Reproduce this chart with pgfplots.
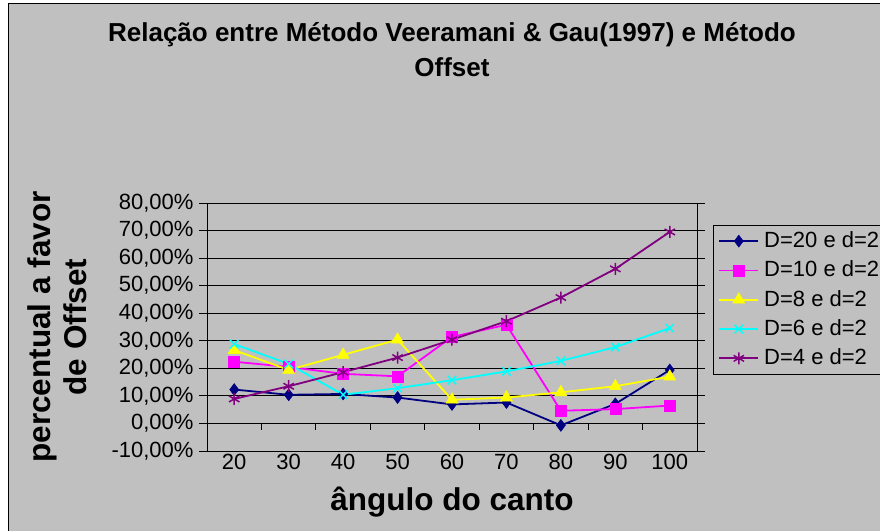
\documentclass[border=0pt]{standalone}
\usepackage{fontspec}
\setmainfont{Liberation Sans}
\usepackage{pgfplots}
\pgfplotsset{compat=1.18}
\definecolor{bg}{HTML}{C0C0C0}
\definecolor{cnavy}{HTML}{000080}
\definecolor{cmag}{HTML}{FF00FF}
\definecolor{cyel}{HTML}{FFFF00}
\definecolor{ccyan}{HTML}{00FFFF}
\definecolor{cpurp}{HTML}{800080}
\begin{document}
\begin{tikzpicture}[x=1pt,y=1pt]
\useasboundingbox (0,0) rectangle (880,530);
\clip (0,0) rectangle (880,530);
\fill[white] (0,0) rectangle (880,530);
\fill[bg, draw=black, line width=1pt] (8.5,-10) rectangle (895,526.5);
\begin{axis}[
  at={(207pt,79pt)}, anchor=south west,
  width=490pt, height=248pt, scale only axis,
  xmin=-0.5, xmax=8.5, ymin=-10, ymax=80,
  axis background/.style={fill=bg},
  axis line style={black, line width=0.8pt},
  xtick={0,...,8},
  xticklabels={20,30,40,50,60,70,80,90,100},
  xtick style={draw=none},
  ytick={-10,0,...,80},
  yticklabels={{-10,00\%},{0,00\%},{10,00\%},{20,00\%},{30,00\%},{40,00\%},{50,00\%},{60,00\%},{70,00\%},{80,00\%}},
  ytick style={black, line width=0.8pt},
  tick align=outside, major tick length=8pt,
  ymajorgrids, major grid style={black, line width=0.8pt},
  tick label style={font=\fontsize{22}{24}\selectfont},
  yticklabel style={xshift=-2pt},
  xticklabel style={yshift=8pt},
  xlabel={ângulo do canto},
  xlabel style={font=\fontsize{31.5}{36}\bfseries, at={(axis description cs:0.5,-0.205)}, anchor=center},
  ylabel={percentual a favor\\de Offset},
  ylabel style={font=\fontsize{31.5}{36}\bfseries, align=center, at={(axis description cs:-0.306,0.5)}, anchor=center},
  title={Relação entre Método Veeramani \& Gau(1997) e Método\\Offset},
  title style={font=\fontsize{26}{35}\bfseries, align=center, at={(axis description cs:0.5,1.593)}, anchor=center},
  legend style={at={(axis description cs:1.0327,0.911)}, anchor=north west,
    fill=bg, draw=black, line width=0.8pt,
    font=\fontsize{22}{26}\selectfont,
    inner xsep=5pt, inner ysep=1pt, row sep=0pt,
    nodes={inner sep=2pt, text height=19pt, text depth=6.3pt},
    /tikz/column 2/.style={column sep=0pt}},
  legend cell align=left,
  legend image code/.code={\draw[mark repeat=2,mark phase=2,#1] plot coordinates {(0pt,0pt) (19.5pt,0pt) (39pt,0pt)};},
  every axis plot/.append style={line width=1.8pt},
  clip=false,
]
\draw[black, line width=0.8pt] (axis cs:-0.5,0) -- (axis cs:8.5,0);
\pgfplotsinvokeforeach{0.5,1.5,2.5,3.5,4.5,5.5,6.5,7.5}{
  \draw[black, line width=0.8pt] (axis cs:#1,0) -- ++(0pt,-7pt);
}
\addplot[cnavy, mark=diamond*, mark size=6pt, mark options={fill=cnavy, line width=0.5pt}]
  coordinates {(0,12.3) (1,10.4) (2,10.7) (3,9.4) (4,6.9) (5,7.6) (6,-0.7) (7,7.1) (8,19.4)};
\addlegendentry{\hspace{3pt}D=20 e d=2}
\addplot[cmag, mark=square*, mark size=5.5pt, mark options={fill=cmag, line width=0.5pt}]
  coordinates {(0,22.4) (1,20.5) (2,18.0) (3,17.1) (4,31.4) (5,35.8) (6,4.6) (7,5.2) (8,6.5)};
\addlegendentry{\hspace{3pt}D=10 e d=2}
\addplot[cyel, mark=triangle*, mark size=7pt, mark options={fill=cyel, line width=0.5pt}]
  coordinates {(0,26.6) (1,19.4) (2,24.9) (3,30.4) (4,8.6) (5,9.4) (6,11.3) (7,13.5) (8,17.0)};
\addlegendentry{\hspace{3pt}D=8 e d=2}
\addplot[ccyan, mark=x, mark size=6pt, mark options={line width=1.5pt}]
  coordinates {(0,28.8) (1,21.6) (2,10.4) (3,12.8) (4,15.7) (5,18.9) (6,22.7) (7,27.7) (8,34.6)};
\addlegendentry{\hspace{3pt}D=6 e d=2}
\addplot[cpurp, mark=asterisk, mark size=6pt, mark options={line width=1.5pt}]
  coordinates {(0,8.9) (1,13.5) (2,18.6) (3,23.9) (4,30.4) (5,37.1) (6,45.7) (7,56.1) (8,69.5)};
\addlegendentry{\hspace{3pt}D=4 e d=2}
\end{axis}
\end{tikzpicture}
\end{document}
